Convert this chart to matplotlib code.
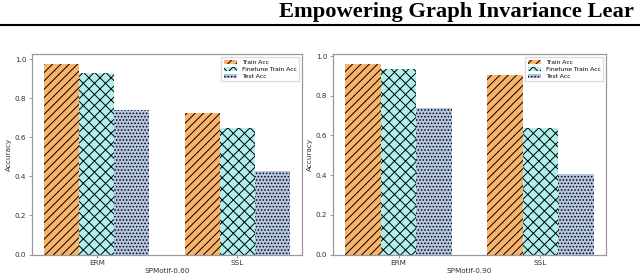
import matplotlib.pyplot as plt
import numpy as np

groups = ['ERM', 'SSL']
series = ['Train Acc', 'Finetune Train Acc', 'Test Acc']
colors = ['#F9B36B', '#AFF0EC', '#B4C6E0']
hatches = ['////', 'xxx', '.....']

acc_060 = [[0.975, 0.725],   # Train Acc
           [0.930, 0.650],   # Finetune Train Acc
           [0.740, 0.425]]   # Test Acc
acc_090 = [[0.960, 0.905],
           [0.935, 0.640],
           [0.740, 0.405]]

panels = [('SPMotif-0.60', acc_060), ('SPMotif-0.90', acc_090)]

plt.rcParams['hatch.linewidth'] = 0.7

fig = plt.figure(figsize=(6.4, 2.77), dpi=100)

# page header, as far as it shows in the crop
fig.text(279/640, 1 - 17/277, 'Empowering Graph Invariance Lear',
         family='Liberation Serif', weight='bold', fontsize=16.2, ha='left', va='baseline')
fig.add_artist(plt.Line2D([0, 1], [1 - 25/277, 1 - 25/277], color='black', lw=1.5))

positions = [[32/640, 22.5/277, 270/640, 200/277],
             [333/640, 22.5/277, 273/640, 200/277]]

x = np.arange(len(groups))
w = 0.25
for pos, (name, vals) in zip(positions, panels):
    ax = fig.add_axes(pos)
    for i, s in enumerate(series):
        ax.bar(x + (i - 1) * w, vals[i], w, color=colors[i], hatch=hatches[i],
               edgecolor='black', linewidth=0, label=s)
    ax.set_xticks(x)
    ax.set_xticklabels(groups)
    ax.set_xlabel(name, fontsize=5.2, labelpad=1.5, color='#333333')
    ax.set_ylabel('Accuracy', fontsize=5.2, labelpad=2, color='#333333')
    ax.tick_params(labelsize=5.2, length=2.5, width=0.6, pad=1.5,
                   color='#888888', labelcolor='#333333')
    for sp in ax.spines.values():
        sp.set_color('#999999')
        sp.set_linewidth(0.9)
    ax.legend(loc='upper right', fontsize=4.3, framealpha=1, edgecolor='#dddddd',
              handlelength=2.2, handleheight=0.6, borderpad=0.4, labelspacing=0.35,
              fancybox=False)

fig.savefig('out.png', dpi=100)
